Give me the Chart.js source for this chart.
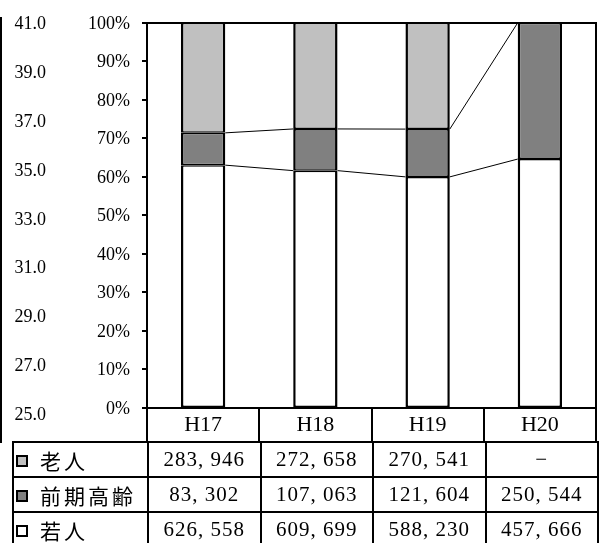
<!DOCTYPE html>
<html lang="ja">
  <head>
    <meta charset="UTF-8" />
    <title>若人・前期高齢・老人 構成比</title>
    <script src="https://cdn.jsdelivr.net/npm/chart.js"></script>
    <style>
      html, body { margin: 0; padding: 0; background: #fff; }
      #wrap { position: relative; width: 605px; height: 543px; overflow: hidden; }
      #grafico { position: absolute; left: 0; top: 0; }
      #frame-left { position: absolute; left: 0; top: 17px; width: 2px; height: 426px; background: #000; }
      #tabela {
        position: absolute; left: 12px; top: 441px; width: 585px;
        border-collapse: collapse; table-layout: fixed;
        font-family: 'Liberation Serif', serif; font-size: 21px; color: #000;
      }
      #tabela td { border: 2px solid #000; height: 33px; padding: 0; text-align: center; letter-spacing: 1px; white-space: nowrap; }
      #tabela td.nome { text-align: left; font-family: 'Noto Sans CJK JP', sans-serif; font-size: 21px; letter-spacing: 3px; padding-left: 2px; }
      .marca { display: inline-block; width: 8px; height: 8px; border: 2px solid #000; margin-right: 12px; vertical-align: 2px; }
    </style>
  </head>
  <body>
    <div id="wrap">
      <canvas id="grafico" width="605" height="443"></canvas>
      <div id="frame-left"></div>
      <table id="tabela"></table>
    </div>

    <script>
      // dados (pessoas)
      const years = ['H17', 'H18', 'H19', 'H20'];
      const rojin = [283946, 272658, 270541, null];      // 老人
      const zenki = [83302, 107063, 121604, 250544];     // 前期高齢
      const wakato = [626558, 609699, 588230, 457666];   // 若人
      const leftAxisTicks = [25, 27, 29, 31, 33, 35, 37, 39, 41];

      const series = [
        { name: '若人', values: wakato, color: '#ffffff' },
        { name: '前期高齢', values: zenki, color: '#808080' },
        { name: '老人', values: rojin, color: '#c0c0c0' }
      ];

      const totals = years.map((y, i) => series.reduce((s, d) => s + (d.values[i] || 0), 0));
      const pct = (values) => values.map((v, i) => v == null ? null : v / totals[i] * 100);

      // linhas entre as barras (topo de cada segmento)
      const seriesLines = {
        id: 'seriesLines',
        afterDatasetsDraw(chart) {
          const ctx = chart.ctx;
          ctx.save();
          ctx.strokeStyle = '#000';
          ctx.lineWidth = 1;
          [0, 1].forEach(di => {
            const bars = chart.getDatasetMeta(di).data;
            for (let j = 0; j < bars.length - 1; j++) {
              const a = bars[j].getProps(['x', 'y', 'width'], true);
              const b = bars[j + 1].getProps(['x', 'y', 'width'], true);
              ctx.beginPath();
              ctx.moveTo(a.x + a.width / 2, a.y);
              ctx.lineTo(b.x - b.width / 2, b.y);
              ctx.stroke();
            }
          });
          ctx.restore();
        }
      };

      Chart.defaults.font.family = "'Liberation Serif', serif";
      Chart.defaults.color = '#000';

      new Chart(document.getElementById('grafico').getContext('2d'), {
        type: 'bar',
        data: {
          labels: years,
          datasets: series.map(s => ({
            label: s.name,
            data: pct(s.values),
            backgroundColor: s.color,
            borderColor: '#000',
            borderWidth: { left: 2.5, right: 2.5, top: 1.5, bottom: 1.5 },
            borderSkipped: false,
            categoryPercentage: 1,
            barPercentage: 0.395
          }))
        },
        options: {
          responsive: false,
          animation: false,
          devicePixelRatio: 1,
          layout: { padding: 0 },
          plugins: { legend: { display: false }, tooltip: { enabled: false } },
          scales: {
            x: {
              stacked: true,
              offset: true,
              grid: { offset: true, drawOnChartArea: false, tickLength: 34, color: '#000', lineWidth: 2 },
              border: { display: true, color: '#000', width: 2 },
              ticks: { font: { size: 22 }, padding: -30 },
              afterFit(s) { s.height = 35; }
            },
            xTop: {
              position: 'top',
              grid: { display: false },
              ticks: { display: false },
              border: { display: true, color: '#000', width: 2 },
              afterFit(s) { s.height = 18; }
            },
            y: {
              stacked: true,
              min: 0,
              max: 100,
              weight: 0,
              grid: { drawOnChartArea: false, tickLength: 5, color: '#000', lineWidth: 2 },
              border: { display: true, color: '#000', width: 2 },
              ticks: { stepSize: 10, padding: 12, labelOffset: 1, font: { size: 18 }, callback: v => v + '%' },
              afterFit(s) { s.width = 87; }
            },
            yLeft: {
              position: 'left',
              weight: 1,
              min: 25.3,
              max: 41.06,
              grid: { display: false },
              border: { display: false },
              ticks: { padding: 6, font: { size: 18 }, callback: v => v.toFixed(1) },
              afterBuildTicks(s) { s.ticks = leftAxisTicks.map(v => ({ value: v })); },
              afterFit(s) { s.width = 60; }
            },
            yRight: {
              position: 'right',
              grid: { display: false },
              ticks: { display: false },
              border: { display: true, color: '#000', width: 2 },
              afterFit(s) { s.width = 9; }
            }
          }
        },
        plugins: [seriesLines]
      });

      // tabela de dados
      const fmt = v => v == null ? '−' : String(v).replace(/\B(?=(\d{3})+(?!\d))/g, ', ');
      const tabela = document.getElementById('tabela');
      let html = '<colgroup><col style="width:135px">' + years.map(() => '<col style="width:112.5px">').join('') + '</colgroup>';
      series.slice().reverse().forEach(s => {
        html += '<tr><td class="nome"><span class="marca" style="background:' + s.color + '"></span>' + s.name + '</td>';
        html += s.values.map(v => '<td>' + fmt(v) + '</td>').join('') + '</tr>';
      });
      tabela.innerHTML = html;
    </script>
  </body>
</html>
